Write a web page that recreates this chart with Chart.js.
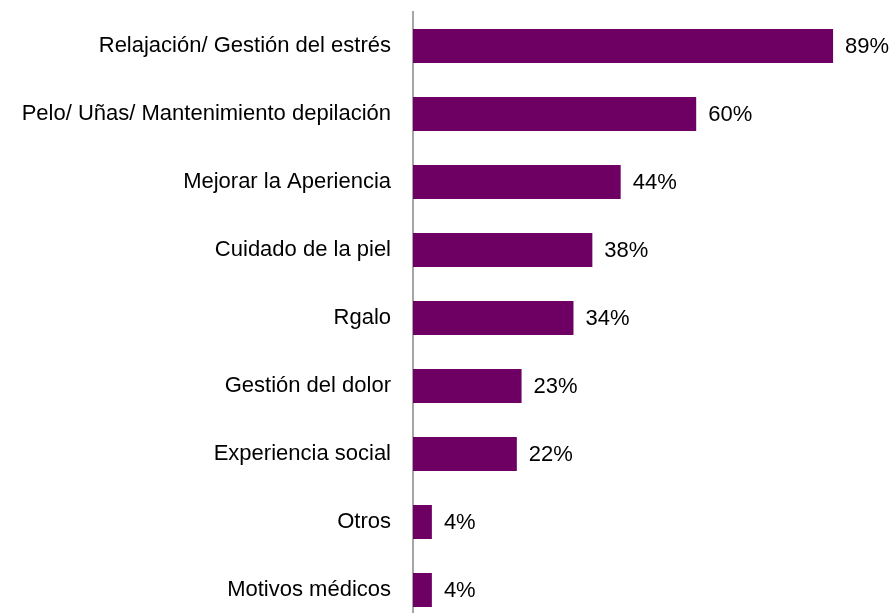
<!DOCTYPE html>
<html>
<head>
<meta charset="utf-8">
<script src="https://cdn.jsdelivr.net/npm/chart.js@4.4.1/dist/chart.umd.min.js"></script>
<style>
  html, body { margin: 0; padding: 0; background: #fff; overflow: hidden; }
  canvas { display: block; }
</style>
</head>
<body>
<canvas id="mychart" width="893" height="624"></canvas>
<script>
const categories = [
  'Relajación/ Gestión del estrés',
  'Pelo/ Uñas/ Mantenimiento depilación',
  'Mejorar la Aperiencia',
  'Cuidado de la piel',
  'Rgalo',
  'Gestión del dolor',
  'Experiencia social',
  'Otros',
  'Motivos médicos'
];
const percentages = [89, 60, 44, 38, 34, 23, 22, 4, 4];

const FONT = 'Liberation Sans, Arial, sans-serif';

// writes the percentage to the right of each bar
const valueLabels = {
  id: 'valueLabels',
  afterDatasetsDraw(chart) {
    const ctx = chart.ctx;
    const meta = chart.getDatasetMeta(0);
    ctx.save();
    ctx.font = '22px ' + FONT;
    ctx.fillStyle = '#000';
    ctx.textAlign = 'left';
    ctx.textBaseline = 'middle';
    meta.data.forEach((bar, i) => {
      ctx.fillText(percentages[i] + '%', bar.x + 12, bar.y + 1);
    });
    ctx.restore();
  }
};

const ctx = document.getElementById('mychart').getContext('2d');
const myChart = new Chart(ctx, {
  type: 'bar',
  data: {
    labels: categories,
    datasets: [{
      data: percentages,
      backgroundColor: '#6d0062',
      categoryPercentage: 0.5,
      barPercentage: 1
    }]
  },
  options: {
    indexAxis: 'y',
    responsive: false,
    animation: false,
    layout: { padding: { top: 12, right: 8, bottom: 0, left: 0 } },
    plugins: {
      legend: { display: false },
      tooltip: { enabled: false }
    },
    scales: {
      x: {
        display: false,
        min: 0,
        max: 100
      },
      y: {
        grid: { display: false, drawTicks: true, tickLength: 0 },
        border: { display: true, color: '#a6a6a6', width: 2 },
        ticks: {
          color: '#000',
          padding: 22,
          font: { family: FONT, size: 22 }
        },
        afterFit(scale) {
          // fixed label column, no extra room above/below the bands
          scale.width = 413;
          scale.paddingTop = 0;
          scale.paddingBottom = 0;
        }
      }
    }
  },
  plugins: [valueLabels]
});
</script>
</body>
</html>
